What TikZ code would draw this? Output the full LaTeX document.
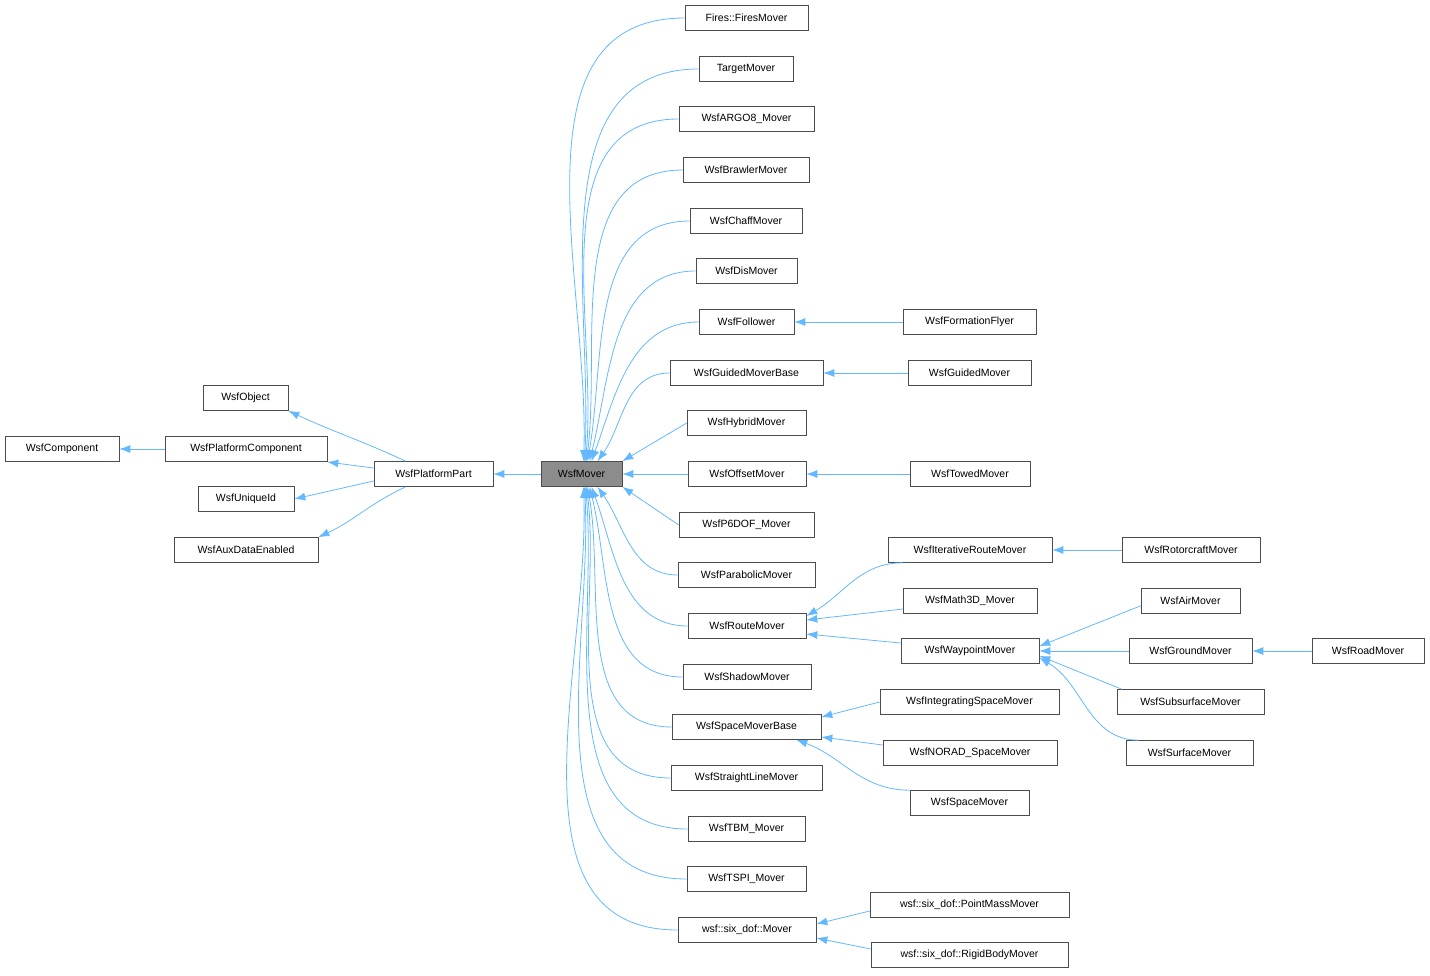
\documentclass[tikz,border=0pt]{standalone}
\usepackage{fontspec}
\setmainfont{Liberation Sans}
\usetikzlibrary{arrows.meta,calc}
\definecolor{eb}{HTML}{63B8FF}
\begin{document}
\begin{tikzpicture}[x=1pt,y=-1pt,
 box/.style={draw=black!70,fill=white,minimum height=25pt,inner sep=0pt,font=\fontsize{10.5}{12}\selectfont,line width=0.6pt},
 edge/.style={draw=eb,line width=0.8pt,{Latex[length=11pt,width=8pt]}-}]
\useasboundingbox (0,0) rectangle (1430,975);
\newcommand\nd[5]{\node[box,minimum width=#4pt] (#1) at (#2,#3) {#5};}
\nd{comp}{62}{449}{114}{WsfComponent}
\nd{obj}{245.5}{398}{85}{WsfObject}
\nd{pcomp}{246}{449}{162}{WsfPlatformComponent}
\nd{uid}{246}{499}{96}{WsfUniqueId}
\nd{aux}{246}{550}{144}{WsfAuxDataEnabled}
\nd{ppart}{433.5}{474}{119}{WsfPlatformPart}
\node[box,fill=black!45,minimum width=81pt] (mover) at (581.5,474) {WsfMover};
\nd{fires}{746.5}{18}{123}{Fires::FiresMover}
\nd{target}{746}{69}{94}{TargetMover}
\nd{argo}{746.5}{119}{135}{WsfARGO8\_Mover}
\nd{brawler}{746}{170}{126}{WsfBrawlerMover}
\nd{chaff}{746}{221}{112}{WsfChaffMover}
\nd{dis}{746.5}{271}{101}{WsfDisMover}
\nd{follower}{746.5}{322}{95}{WsfFollower}
\nd{gmb}{746.5}{373}{153}{WsfGuidedMoverBase}
\nd{hybrid}{746.5}{423}{119}{WsfHybridMover}
\nd{offset}{747}{474}{118}{WsfOffsetMover}
\nd{p6}{746.5}{525}{135}{WsfP6DOF\_Mover}
\nd{parab}{746.5}{575}{137}{WsfParabolicMover}
\nd{route}{747}{626}{118}{WsfRouteMover}
\nd{shadow}{747}{677}{128}{WsfShadowMover}
\nd{smb}{746.5}{727}{149}{WsfSpaceMoverBase}
\nd{straight}{746.5}{778}{151}{WsfStraightLineMover}
\nd{tbm}{746.5}{829}{117}{WsfTBM\_Mover}
\nd{tspi}{746.5}{879}{119}{WsfTSPI\_Mover}
\nd{six}{747}{930}{138}{wsf::six\_dof::Mover}
\nd{form}{969.5}{322}{133}{WsfFormationFlyer}
\nd{guided}{969.5}{373}{123}{WsfGuidedMover}
\nd{towed}{970}{474}{120}{WsfTowedMover}
\nd{iter}{970}{550}{164}{WsfIterativeRouteMover}
\nd{math}{970}{601}{134}{WsfMath3D\_Mover}
\nd{way}{970}{651}{138}{WsfWaypointMover}
\nd{integ}{969.5}{702}{179}{WsfIntegratingSpaceMover}
\nd{norad}{970}{753}{174}{WsfNORAD\_SpaceMover}
\nd{space}{969.5}{803}{119}{WsfSpaceMover}
\nd{pm}{969.5}{905}{199}{wsf::six\_dof::PointMassMover}
\nd{rb}{969.5}{955}{197}{wsf::six\_dof::RigidBodyMover}
\nd{rotor}{1191}{550}{138}{WsfRotorcraftMover}
\nd{air}{1190.5}{601}{99}{WsfAirMover}
\nd{ground}{1190.5}{651}{123}{WsfGroundMover}
\nd{sub}{1190.5}{702}{147}{WsfSubsurfaceMover}
\nd{surf}{1189.5}{753}{127}{WsfSurfaceMover}
\nd{road}{1368}{651}{112}{WsfRoadMover}
% left part
\draw[edge] (comp.east) -- (pcomp.west);
\draw[edge] (obj.south east) to[out=-25,in=155] ($(ppart.north west)+(32,0)$);
\draw[edge] ($(pcomp.east)+(0,13)$) -- ($(ppart.west)+(0,-6)$);
\draw[edge] (uid.east) -- ($(ppart.west)+(0,7)$);
\draw[edge] (aux.north east) to[out=25,in=-155] ($(ppart.south west)+(32,0)$);
\draw[edge] (ppart.east) -- (mover.west);
% mover children
\draw[edge] ($(mover.north)+(2,0)$) to[out=88,in=180] (fires.west);
\draw[edge] ($(mover.north)+(3,0)$) to[out=87,in=180] (target.west);
\draw[edge] ($(mover.north)+(4,0)$) to[out=85,in=180] (argo.west);
\draw[edge] ($(mover.north)+(5,0)$) to[out=83,in=180] (brawler.west);
\draw[edge] ($(mover.north)+(6,0)$) to[out=80,in=180] (chaff.west);
\draw[edge] ($(mover.north)+(8,0)$) to[out=76,in=180] (dis.west);
\draw[edge] ($(mover.north)+(10,0)$) to[out=70,in=180] (follower.west);
\draw[edge] ($(mover.north)+(16,0)$) to[out=55,in=180] (gmb.west);
\draw[edge] ($(mover.north east)+(0,0)$) -- (hybrid.west);
\draw[edge] (mover.east) -- (offset.west);
\draw[edge] ($(mover.south east)+(0,0)$) -- (p6.west);
\draw[edge] ($(mover.south)+(16,0)$) to[out=-55,in=180] (parab.west);
\draw[edge] ($(mover.south)+(10,0)$) to[out=-70,in=180] (route.west);
\draw[edge] ($(mover.south)+(8,0)$) to[out=-76,in=180] (shadow.west);
\draw[edge] ($(mover.south)+(6,0)$) to[out=-80,in=180] (smb.west);
\draw[edge] ($(mover.south)+(5,0)$) to[out=-83,in=180] (straight.west);
\draw[edge] ($(mover.south)+(4,0)$) to[out=-85,in=180] (tbm.west);
\draw[edge] ($(mover.south)+(3,0)$) to[out=-87,in=180] (tspi.west);
\draw[edge] ($(mover.south)+(2,0)$) to[out=-88,in=180] (six.west);
% others
\draw[edge] (follower.east) -- (form.west);
\draw[edge] (gmb.east) -- (guided.west);
\draw[edge] (offset.east) -- (towed.west);
\draw[edge] ($(route.east)+(0,-10)$) to[out=30,in=180] ($(iter.south west)+(15,0)$);
\draw[edge] ($(route.east)+(0,-6)$) -- ($(math.west)+(0,8)$);
\draw[edge] ($(route.east)+(0,8)$) -- ($(way.west)+(0,-8)$);
\draw[edge] (iter.east) -- (rotor.west);
\draw[edge] ($(way.north east)+(0,8)$) -- ($(air.south west)+(0,-8)$);
\draw[edge] (way.east) -- (ground.west);
\draw[edge] (ground.east) -- (road.west);
\draw[edge] ($(way.south east)+(0,-8)$) -- ($(sub.north west)+(5,0)$);
\draw[edge] ($(way.south east)+(0,-6)$) to[out=-30,in=180] ($(surf.north west)+(13,0)$);
\draw[edge] ($(smb.east)+(0,-10)$) -- ($(integ.west)+(0,0)$);
\draw[edge] ($(smb.east)+(0,10)$) -- ($(norad.west)+(0,-8)$);
\draw[edge] ($(smb.south east)+(-25,0)$) to[out=-20,in=180] ($(space.north west)+(0,0)$);
\draw[edge] ($(six.east)+(0,-6)$) -- ($(pm.west)+(0,6)$);
\draw[edge] ($(six.east)+(0,8)$) -- ($(rb.west)+(0,-6)$);
\end{tikzpicture}
\end{document}
